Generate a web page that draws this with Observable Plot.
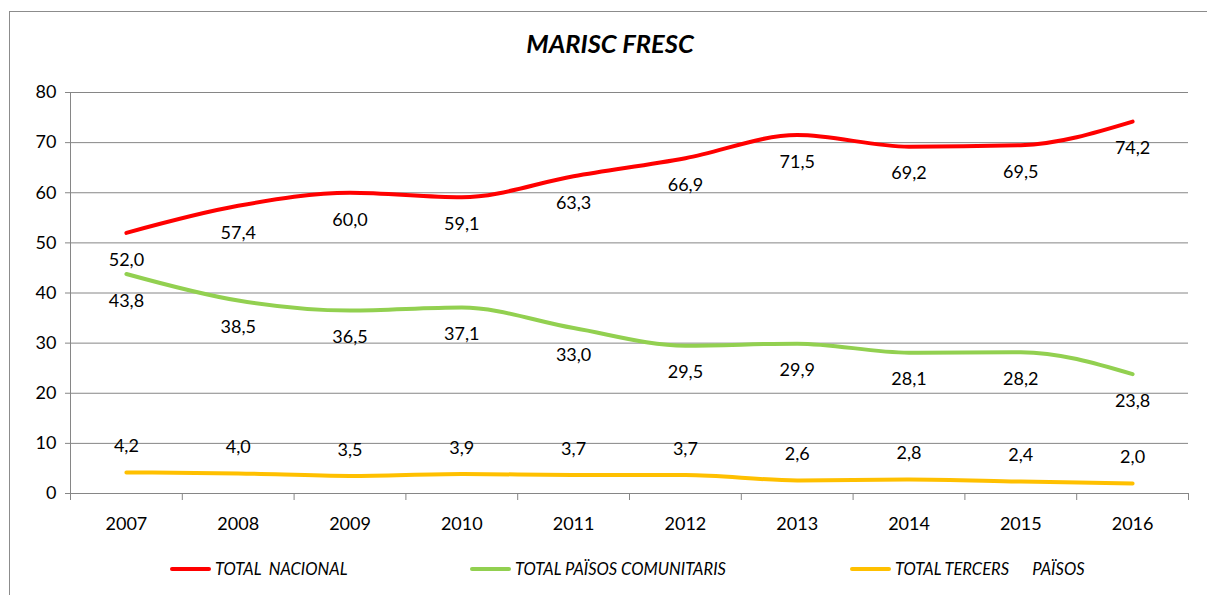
<!DOCTYPE html>
<html><head><meta charset="utf-8">
<script src="https://cdn.jsdelivr.net/npm/d3@7"></script>
<script src="https://cdn.jsdelivr.net/npm/@observablehq/plot@0.6"></script>
<style>
body{margin:0;background:#fff;font-family:Lato,"Open Sans",sans-serif;overflow:hidden;}
#wrap{position:relative;width:1207px;height:595px;overflow:hidden;}
#border{position:absolute;left:9px;top:11px;width:1300px;height:700px;border-left:1.5px solid #8c8c8c;border-top:1.5px solid #8c8c8c;box-sizing:border-box;}
#title{position:absolute;left:0;width:1220px;top:28px;text-align:center;font-weight:bold;font-style:italic;font-size:25.5px;color:#000;}
#chart{position:absolute;left:0;top:70px;}
.leg{position:absolute;top:559px;font-style:italic;font-size:16.5px;color:#000;display:flex;align-items:center;white-space:pre;}
.sw{display:inline-block;width:41px;height:4px;border-radius:2px;margin-right:4px;}
</style></head>
<body><div id="wrap"><div id="border"></div><div id="title">MARISC FRESC</div><div id="chart"></div></div>
<script>
const years = [2007,2008,2009,2010,2011,2012,2013,2014,2015,2016];
const nacional = [52.0,57.4,60.0,59.1,63.3,66.9,71.5,69.2,69.5,74.2];
const comunitaris = [43.8,38.5,36.5,37.1,33.0,29.5,29.9,28.1,28.2,23.8];
const tercers = [4.2,4.0,3.5,3.9,3.7,3.7,2.6,2.8,2.4,2.0];
const yTicks = [0,10,20,30,40,50,60,70,80];
const seriesNames = ["TOTAL  NACIONAL","TOTAL PAÏSOS COMUNITARIS","TOTAL TERCERS      PAÏSOS"];
const colors = ["#ff0000","#92d050","#ffc000"];

const series = [nacional, comunitaris, tercers];
const data = series.flatMap((vals, i) => vals.map((v, j) => ({year: years[j], value: v, s: i})));
const boundaries = [years[0] - 0.5, ...years.map(y => y + 0.5)];
const fmt = v => v.toFixed(1).replace(".", ",");
const labelDy = [27, 27, -26];
const grey = "#868686";

const marks = [
  Plot.gridY(yTicks, {stroke: grey, strokeOpacity: 1, strokeWidth: 1}),
  Plot.axisY(yTicks, {tickSize: 5, tickPadding: 9, stroke: grey, fontSize: 18, tickFormat: d => d, label: null, color: "#000"}),
  Plot.ruleX([boundaries[0]], {stroke: grey, strokeWidth: 1}),
  Plot.axisX(boundaries, {tickSize: 7, tickFormat: () => "", stroke: grey, label: null}),
  Plot.axisX(years, {tickSize: 0, tickPadding: 24, fontSize: 18, tickFormat: d => String(d), label: null}),
];
series.forEach((vals, i) => {
  const d = data.filter(r => r.s === i);
  marks.push(Plot.line(d, {x: "year", y: "value", stroke: colors[i], strokeWidth: 4, curve: "monotone-x"}));
  marks.push(Plot.text(d, {x: "year", y: "value", text: r => fmt(r.value), dy: labelDy[i], fontSize: 18, fill: "#000"}));
});

const chart = Plot.plot({
  width: 1207, height: 470,
  marginLeft: 70, marginRight: 19, marginTop: 22, marginBottom: 47,
  style: {fontFamily: "Lato, 'Open Sans', sans-serif", background: "transparent", color: "#000"},
  x: {type: "linear", domain: [boundaries[0], boundaries[boundaries.length - 1]]},
  y: {domain: [0, 80]},
  marks
});
document.getElementById("chart").appendChild(chart);

const legX = [170, 470, 850];
seriesNames.forEach((n, i) => {
  const el = document.createElement("div");
  el.className = "leg";
  el.style.left = legX[i] + "px";
  el.innerHTML = `<span class="sw" style="background:${colors[i]}"></span><span>${n}</span>`;
  document.getElementById("wrap").appendChild(el);
});
</script></body></html>
